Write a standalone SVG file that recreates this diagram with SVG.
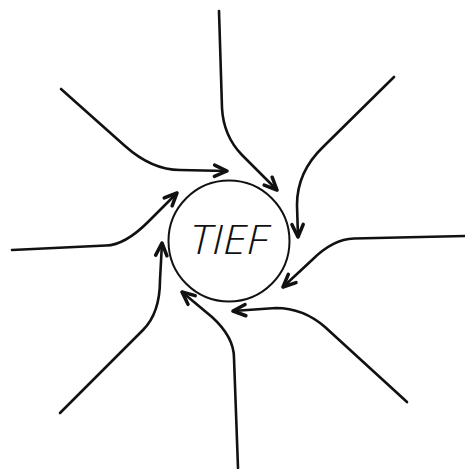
<svg xmlns="http://www.w3.org/2000/svg" width="465" height="469" viewBox="0 0 465 469">
  <style>
    .flow { fill: none; stroke: #111; stroke-width: 2.6; stroke-linecap: round; stroke-linejoin: round; marker-end: url(#head); }
    .node { fill: #fff; stroke: #111; stroke-width: 2; }
    .label { font-family: "Open Sans", "Liberation Sans", sans-serif; font-style: italic; font-weight: 300; font-size: 41px; fill: #111; }
  </style>
  <defs>
    <marker id="head" markerUnits="userSpaceOnUse" markerWidth="20" markerHeight="20" refX="0" refY="0" viewBox="-12 -8 16 16" orient="auto">
      <path d="M-10,-4.5 L0,0 L-10,4.5" fill="none" stroke="#111" stroke-width="2.8" stroke-linecap="round" stroke-linejoin="round"/>
    </marker>
  </defs>
  <rect width="465" height="469" fill="#fff"/>
  <g id="connectors">
    <path class="flow" d="M61,89 L125,146 Q152,170 180,170 L227,171"/>
    <path class="flow" d="M219,11 L222,108 Q223.5,136 242,155 L277,190"/>
    <path class="flow" d="M394,77 L323,147 Q297,172 297,205 L298,237"/>
    <path class="flow" d="M465,236 L354,238.5 Q333,239 312,260 L283,287"/>
    <path class="flow" d="M407,402 L325,327 Q303,308 276,308 L233,311"/>
    <path class="flow" d="M238,468 L234,358 Q234,337 212,317 L182,292"/>
    <path class="flow" d="M60,413 L143,330 Q160,313 160,280 L162,243"/>
    <path class="flow" d="M12,250 L106,245.5 Q125,245 148,222 L177,193"/>
  </g>
  <g id="tief">
    <circle class="node" cx="229" cy="241" r="60.5"/>
    <text class="label" x="229" y="254" text-anchor="middle" textLength="78" lengthAdjust="spacingAndGlyphs">TIEF</text>
  </g>
</svg>
